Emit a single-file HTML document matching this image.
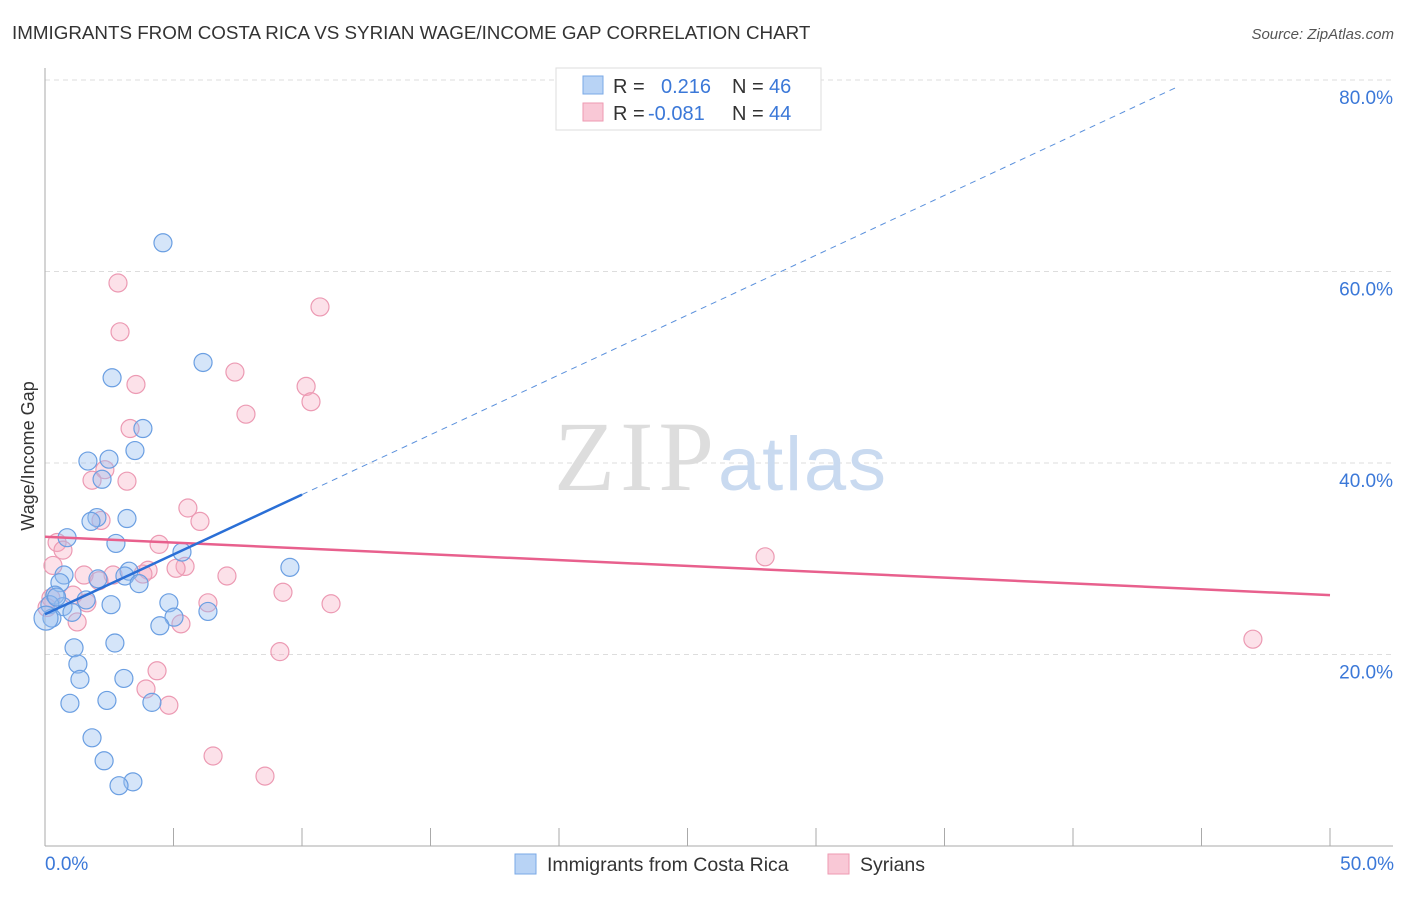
<!DOCTYPE html>
<html><head><meta charset="utf-8"><style>
body{margin:0;background:#fff;font-family:"Liberation Sans",sans-serif;}
svg text{font-family:"Liberation Sans",sans-serif;}
svg text.serif{font-family:"Liberation Serif",serif;}
</style></head><body>
<svg id="chart" width="1406" height="892">
<text x="12" y="39" font-size="18.8" fill="#333">IMMIGRANTS FROM COSTA RICA VS SYRIAN WAGE/INCOME GAP CORRELATION CHART</text>
<text x="1394" y="39" font-size="15" fill="#555" font-style="italic" text-anchor="end">Source: ZipAtlas.com</text>
<g id="grid"></g>
<text class="serif" x="714" y="490" font-size="100" fill="#ddd" text-anchor="end" textLength="160">ZIP</text>
<text x="718" y="490" font-size="76" fill="#c9daf0" textLength="168">atlas</text>
<g id="marks"></g>
<text transform="translate(34,456) rotate(-90)" font-size="18" fill="#333" text-anchor="middle">Wage/Income Gap</text>
<g>
<rect x="556" y="68" width="265" height="62" fill="#fff" stroke="#ddd"/>
<rect x="583" y="76" width="20" height="18" fill="#b8d3f5" stroke="#7aa8e6"/>
<rect x="583" y="103" width="20" height="18" fill="#f9c8d6" stroke="#ee9ab2"/>
<text x="613" y="93" font-size="20" fill="#333">R =</text>
<text x="661" y="93" font-size="20" fill="#3b78d8">0.216</text>
<text x="732" y="93" font-size="20" fill="#333">N =</text>
<text x="769" y="93" font-size="20" fill="#3b78d8">46</text>
<text x="613" y="120" font-size="20" fill="#333">R =</text>
<text x="648" y="120" font-size="20" fill="#3b78d8">-0.081</text>
<text x="732" y="120" font-size="20" fill="#333">N =</text>
<text x="769" y="120" font-size="20" fill="#3b78d8">44</text>
</g>
<g>
<rect x="515" y="854" width="21" height="20" fill="#b8d3f5" stroke="#7aa8e6"/>
<text x="547" y="871" font-size="19.5" fill="#333">Immigrants from Costa Rica</text>
<rect x="828" y="854" width="21" height="20" fill="#f9c8d6" stroke="#ee9ab2"/>
<text x="860" y="871" font-size="19.5" fill="#333">Syrians</text>
</g>
</svg>
<script>
const blueX=[4.59,6.15,2.61,3.81,3.50,1.67,2.49,2.22,2.02,1.79,3.19,0.86,2.76,5.33,9.53,0.74,3.27,3.11,2.06,3.66,0.58,0.39,1.60,2.57,4.82,0.70,0.19,1.05,0.27,0.04,6.34,5.02,4.47,2.72,1.13,1.28,1.36,3.07,0.97,2.41,4.16,1.83,2.30,3.42,2.88,0.45];
const blueY=[63.0,50.5,48.9,43.6,41.3,40.2,40.4,38.3,34.3,33.9,34.2,32.2,31.6,30.7,29.1,28.3,28.7,28.2,27.9,27.4,27.5,26.2,25.7,25.2,25.4,25.0,25.2,24.4,23.8,23.8,24.5,23.9,23.0,21.2,20.7,19.0,17.4,17.5,14.9,15.2,15.0,11.3,8.9,6.7,6.3,26.0];
const pinkX=[2.84,10.70,2.92,7.39,3.54,10.16,10.35,7.82,3.31,2.33,1.83,3.19,5.56,6.03,2.18,4.44,0.47,0.70,28.02,0.31,5.45,5.10,4.01,3.81,2.65,1.52,7.08,2.10,9.26,1.09,0.23,1.63,6.34,11.13,1.25,5.29,0.08,47.0,9.14,4.36,3.93,4.82,6.54,8.56];
const pinkY=[58.8,56.3,53.7,49.5,48.2,48.0,46.4,45.1,43.6,39.3,38.2,38.1,35.3,33.9,34.0,31.5,31.7,30.9,30.2,29.3,29.2,29.0,28.8,28.4,28.3,28.3,28.2,27.7,26.5,26.2,25.9,25.4,25.4,25.3,23.4,23.2,24.9,21.6,20.3,18.3,16.4,14.7,9.4,7.3];
const blueTrend=[24.2,1.25];
const pinkTrend=[32.3,-0.122];
const yTicks=[20,40,60,80];
const yTickLabels=["20.0%","40.0%","60.0%","80.0%"];
const NS="http://www.w3.org/2000/svg";
const sx=v=>45+v*25.7, sy=v=>846-v*9.575;
function mk(t,a,p){const e=document.createElementNS(NS,t);for(const k in a)e.setAttribute(k,a[k]);p.appendChild(e);return e;}
const grid=document.getElementById('grid'), marks=document.getElementById('marks');
yTicks.forEach((t,i)=>{
 const l=mk('line',{x1:45,x2:1393,y1:sy(t),y2:sy(t),stroke:'#ddd','stroke-dasharray':'5,4'},grid);
 
 
 const tx=mk('text',{x:1393,y:sy(t)+24,'font-size':19,fill:'#3b78d8','text-anchor':'end'},grid);
 tx.textContent=yTickLabels[i];
 
 
});
let ax=mk('line',{x1:45,x2:45,y1:68,y2:846,stroke:'#aaa'},grid);


ax=mk('line',{x1:45,x2:1393,y1:846,y2:846,stroke:'#aaa'},grid);


for(let k=0;k<=10;k++){const x=sx(k*5);const t=mk('line',{x1:x,x2:x,y1:828,y2:846,stroke:'#aaa'},grid);
 
 }
let xl=mk('text',{x:45,y:870,'font-size':19,fill:'#3b78d8'},grid);xl.textContent='0.0%';


xl=mk('text',{x:1394,y:870,'font-size':19,fill:'#3b78d8','text-anchor':'end'},grid);xl.textContent='50.0%';


pinkX.forEach((x,i)=>{const c=mk('circle',{cx:sx(x),cy:sy(pinkY[i]),r:9,fill:'rgba(246,170,192,0.35)',stroke:'#ec9ab3','stroke-width':1.2},marks);
 
 });
blueX.forEach((x,i)=>{const c=mk('circle',{cx:sx(x),cy:sy(blueY[i]),r:i==29?12:9,fill:'rgba(150,190,240,0.4)',stroke:'#6b9fe2','stroke-width':1.2},marks);
 
 });
let ln=mk('line',{x1:sx(0),y1:sy(pinkTrend[0]),x2:sx(50),y2:sy(pinkTrend[0]+pinkTrend[1]*50),stroke:'#e8608d','stroke-width':2.5},marks);


ln=mk('line',{x1:sx(0),y1:sy(blueTrend[0]),x2:sx(10),y2:sy(blueTrend[0]+blueTrend[1]*10),stroke:'#2a6fd6','stroke-width':2.5},marks);


ln=mk('line',{x1:sx(10),y1:sy(blueTrend[0]+blueTrend[1]*10),x2:sx(44),y2:sy(blueTrend[0]+blueTrend[1]*44),stroke:'#5a90dc','stroke-width':1,'stroke-dasharray':'6,5'},marks);


</script>
</body></html>
